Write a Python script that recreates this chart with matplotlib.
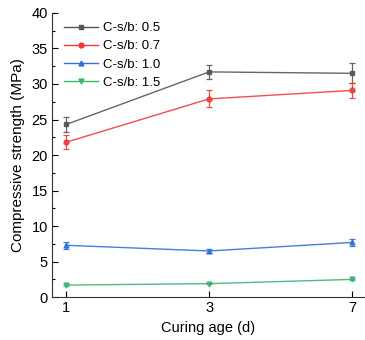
import numpy as np
import matplotlib
matplotlib.use("Agg")
import matplotlib.pyplot as plt
from matplotlib.lines import Line2D
from matplotlib.ticker import MultipleLocator

plt.rcParams['font.family'] = ['Liberation Sans', 'DejaVu Sans']

ages = ['1', '3', '7']
labels = ['C-s/b: 0.5', 'C-s/b: 0.7', 'C-s/b: 1.0', 'C-s/b: 1.5']
strength = [
    [24.3, 31.7, 31.5],
    [21.8, 27.9, 29.1],
    [7.3, 6.5, 7.7],
    [1.7, 1.9, 2.5],
]
errors = [
    [1.0, 1.0, 1.4],
    [1.0, 1.2, 1.1],
    [0.5, 0.3, 0.5],
    [0.1, 0.1, 0.1],
]
colors = ['#555555', '#ee3b3b', '#2f6fde', '#3cb371']
markers = ['s', 'o', '^', 'v']

fig = plt.figure(figsize=(3.65, 3.4), dpi=100)
ax = fig.add_axes([0.1425, 0.126, 0.8575, 0.836])

x = np.arange(len(ages))
handles = []
for vals, err, c, m, lab in zip(strength, errors, colors, markers, labels):
    ax.errorbar(x, vals, yerr=err, color=c, marker=m, markersize=3.5,
                linewidth=1.0, elinewidth=0.9, capsize=2.5, capthick=0.9,
                alpha=0.9)
    handles.append(Line2D([], [], color=c, marker=m, markersize=3.5,
                          linewidth=1.0, label=lab))

ax.set_xlim(-0.0986, 2.09)
ax.set_ylim(0, 40)
ax.set_xticks(x)
ax.set_xticklabels(ages)
ax.yaxis.set_major_locator(MultipleLocator(5))
ax.yaxis.set_minor_locator(MultipleLocator(2.5))
ax.tick_params(direction='in', length=4, width=0.8, labelsize=10.5, pad=3)
ax.tick_params(which='minor', direction='in', length=2.5, width=0.8)
ax.spines['top'].set_visible(False)
ax.spines['right'].set_visible(False)
for s in ('left', 'bottom'):
    ax.spines[s].set_color('#333333')

ax.set_xlabel('Curing age (d)', fontsize=10.5, labelpad=4)
ax.set_ylabel('Compressive strength (MPa)', fontsize=11, labelpad=5)

ax.legend(handles=handles, loc='upper left', frameon=False, fontsize=9.5,
          bbox_to_anchor=(0.0, 1.01), handlelength=2.6, handletextpad=0.35,
          labelspacing=0.45)

fig.savefig('out.png', dpi=100)
